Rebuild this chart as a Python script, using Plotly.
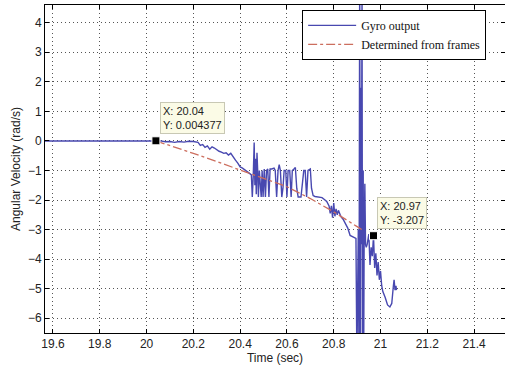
import plotly.graph_objects as go

# Gyro output (time in s, angular velocity in rad/s)
gyro_t = [19.55, 20.04, 20.06, 20.08, 20.10, 20.12, 20.14, 20.16, 20.18, 20.20, 20.22,
          20.23, 20.24, 20.25, 20.26, 20.27, 20.28, 20.29, 20.30, 20.31, 20.32, 20.33,
          20.34, 20.35, 20.36, 20.37, 20.38, 20.39, 20.40, 20.41, 20.42, 20.43, 20.44,
          20.448, 20.452, 20.456, 20.460, 20.463, 20.466, 20.469, 20.472, 20.475, 20.478,
          20.482, 20.486, 20.490, 20.494, 20.498, 20.503, 20.508, 20.513, 20.518, 20.523,
          20.528, 20.535, 20.545, 20.550, 20.556, 20.562, 20.567, 20.572, 20.578, 20.583,
          20.588, 20.595, 20.600, 20.605, 20.612, 20.618, 20.623, 20.630, 20.636, 20.642,
          20.648, 20.660, 20.672, 20.678, 20.684, 20.690, 20.700, 20.705, 20.712,
          20.72, 20.74, 20.75, 20.76, 20.77, 20.78, 20.785, 20.79, 20.795, 20.80, 20.805,
          20.81, 20.815, 20.82, 20.83, 20.84, 20.85, 20.86, 20.87, 20.88, 20.89,
          20.895, 20.899, 20.902, 20.905, 20.908, 20.911, 20.914, 20.916, 20.918, 20.921,
          20.923, 20.926, 20.928, 20.930, 20.933, 20.936, 20.939,
          20.943, 20.950, 20.955, 20.960, 20.965, 20.970, 20.975, 20.980, 20.985, 20.990,
          20.995, 21.000, 21.005, 21.010, 21.020, 21.030, 21.040, 21.048, 21.055, 21.058,
          21.062, 21.066, 21.068]
gyro_w = [0.0, 0.004377, 0.0, -0.03, -0.02, -0.05, -0.02, -0.04, -0.01, -0.02, -0.05,
          -0.15, -0.12, -0.22, -0.17, -0.28, -0.20, -0.24, -0.30, -0.35, -0.38, -0.42,
          -0.40, -0.48, -0.42, -0.55, -0.65, -0.75, -0.88, -0.92, -0.97, -1.05, -1.10,
          -1.15, -1.9, -1.2, -0.05, -1.5, -0.6, -1.8, -0.4, -1.0, -1.9,
          -1.0, -1.5, -1.9, -1.0, -1.9, -0.95, -1.9, -1.0, -0.95, -1.9,
          -0.95, -0.95, -0.92, -1.0, -1.9, -1.0, -0.8, -1.0, -1.9, -1.6,
          -1.0, -1.0, -1.9, -1.0, -1.0, -1.9, -1.0, -0.95, -0.9, -1.6,
          -1.9, -1.9, -1.0, -1.0, -1.9, -1.0, -0.95, -1.6, -1.85,
          -1.88, -1.90, -1.92, -1.98, -2.05, -2.2, -2.45, -2.2, -2.6, -2.1, -2.55,
          -2.3, -2.5, -2.35, -2.55, -2.65, -2.8, -2.95, -3.2, -3.25, -3.3,
          -3.3, -7.5, -3.7, -3.0, -7.5, 6.0, -7.5, 1.8, -3.5, 5.0,
          -7.5, -1.0, -7.5, -3.3, -1.45, -3.5, -3.6,
          -3.5, -3.15, -4.2, -3.6, -3.9, -3.207, -4.3, -3.8, -4.55, -4.1,
          -4.7, -4.4, -4.9, -5.1, -5.3, -5.55, -5.62, -5.5, -4.9, -4.7,
          -5.05, -4.9, -5.05]

# Angular velocity determined from video frames
frames_t = [20.04, 20.10, 20.20, 20.30, 20.40, 20.50, 20.60, 20.70, 20.80, 20.90, 20.93]
frames_w = [0.0, -0.15, -0.42, -0.70, -0.98, -1.25, -1.55, -1.95, -2.40, -2.90, -3.05]

# Data tips
tip_t = [20.04, 20.97]
tip_w = [0.004377, -3.207]
tip_text = ["X: 20.04<br>Y: 0.004377", "X: 20.97<br>Y: -3.207"]
tip_box_x = [20.057, 20.983]
tip_box_y = [1.31, -1.90]

x_ticks = [19.6, 19.8, 20.0, 20.2, 20.4, 20.6, 20.8, 21.0, 21.2, 21.4]
x_tick_text = ["19.6", "19.8", "20", "20.2", "20.4", "20.6", "20.8", "21", "21.2", "21.4"]
y_ticks = [-6, -5, -4, -3, -2, -1, 0, 1, 2, 3, 4]

fig = go.Figure()
fig.add_trace(go.Scatter(x=gyro_t, y=gyro_w, mode="lines", name="Gyro output",
                         line=dict(color="#4848b0", width=1.4)))
fig.add_trace(go.Scatter(x=frames_t, y=frames_w, mode="lines", name="Determined from frames",
                         line=dict(color="#cc6e5e", width=1.3, dash="dashdot")))
fig.add_trace(go.Scatter(x=tip_t, y=tip_w, mode="markers", showlegend=False,
                         marker=dict(symbol="square", size=8, color="black",
                                     line=dict(color="white", width=1))))

for bx, by, txt in zip(tip_box_x, tip_box_y, tip_text):
    fig.add_annotation(x=bx, y=by, xref="x", yref="y", text=txt, showarrow=False,
                       xanchor="left", yanchor="top", align="left",
                       font=dict(family="Liberation Sans, Arial", size=11, color="#222"),
                       bgcolor="#fbfbe6", bordercolor="#c8c8b4", borderwidth=1, borderpad=2)

fig.update_layout(
    width=505, height=372,
    margin=dict(l=45, r=0, t=5, b=39),
    paper_bgcolor="white", plot_bgcolor="white",
    font=dict(family="Liberation Sans, Arial", size=12, color="#222"),
    showlegend=True,
    legend=dict(x=0.559, y=0.985, xanchor="left", yanchor="top",
                bgcolor="white", bordercolor="black", borderwidth=1,
                font=dict(family="Liberation Serif, Times New Roman", size=12, color="#111"),
                tracegroupgap=0, itemwidth=48),
)
grid_style = dict(showgrid=True, gridcolor="#555", griddash="1px,3px", gridwidth=1)
fig.update_xaxes(range=[19.566, 21.532], tickvals=x_ticks, ticktext=x_tick_text,
                 ticks="inside", ticklen=4, tickcolor="black",
                 showline=True, linecolor="black", linewidth=1, mirror="allticks",
                 zeroline=False, automargin=False,
                 title=dict(text="Time (sec)", standoff=1, font=dict(size=12)), **grid_style)
fig.update_yaxes(range=[-6.5, 4.6], tickvals=y_ticks,
                 ticks="inside", ticklen=4, tickcolor="black",
                 showline=True, linecolor="black", linewidth=1, mirror="allticks",
                 zeroline=False, automargin=False,
                 title=dict(text="Angular Velocity (rad/s)", standoff=4, font=dict(size=12)),
                 **grid_style)

fig.write_html("out.html", config={"displayModeBar": False},
               post_script="document.body.style.margin='0';document.body.style.overflow='hidden';")
